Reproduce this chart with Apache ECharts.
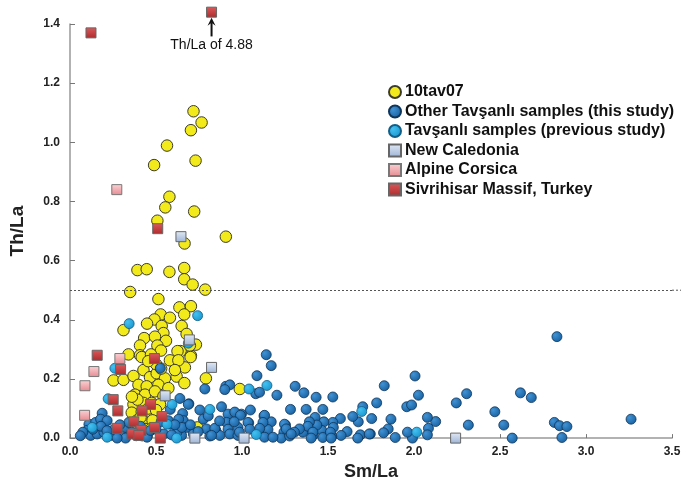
<!DOCTYPE html>
<html><head><meta charset="utf-8">
<script src="https://cdn.jsdelivr.net/npm/echarts@6/dist/echarts.min.js"></script>
<style>html,body{margin:0;padding:0;background:#fff}#c{width:685px;height:486px}</style>
</head><body><div id="c"></div>
<script>
// Data: [Sm/La, Th/La]
const tav07 = [[0.718,1.105],[0.765,1.067],[0.703,1.041],[0.564,0.989],[0.730,0.938],[0.489,0.923],[0.578,0.816],[0.554,0.780],[0.722,0.766],[0.508,0.735],[0.666,0.658],[0.906,0.681],
[0.392,0.568],[0.446,0.571],[0.578,0.562],[0.664,0.575],[0.664,0.537],[0.713,0.519],[0.786,0.502],[0.350,0.494],[0.514,0.470],[0.636,0.442],[0.703,0.446],[0.664,0.418],[0.527,0.418],[0.581,0.407],[0.491,0.401],[0.448,0.387],[0.311,0.365],[0.533,0.379],[0.543,0.355],[0.649,0.379],[0.678,0.352],[0.431,0.338],[0.494,0.343],[0.558,0.329],[0.407,0.313],[0.508,0.313],[0.732,0.316],[0.643,0.294],[0.625,0.294],[0.703,0.279],[0.340,0.283],[0.407,0.280],[0.581,0.263],[0.529,0.296],
[0.697,0.313],[0.417,0.274],[0.471,0.283],[0.668,0.239],[0.253,0.195],[0.311,0.197],[0.369,0.210],[0.427,0.230],[0.465,0.206],[0.504,0.219],[0.552,0.202],[0.620,0.208],[0.665,0.186],[0.790,0.202],[0.398,0.180],[0.446,0.175],[0.514,0.180],[0.572,0.169],[0.378,0.147],[0.436,0.147],[0.494,0.158],[0.543,0.142],[0.369,0.114],[0.427,0.119],[0.475,0.119],[0.523,0.114],[0.359,0.086],[0.417,0.089],[0.465,0.081],[0.388,0.059],[0.446,0.053],[0.436,0.031],[0.446,0.009],[0.740,0.036],[0.987,0.166],[0.630,0.263],[0.701,0.274],
[0.392,0.130],[0.455,0.100],[0.500,0.095],[0.410,0.070],[0.480,0.060],[0.395,0.035],[0.420,0.010],[0.470,0.030],[0.360,0.140],[0.500,0.250],[0.455,0.260],[0.610,0.230],[0.530,0.235]];

const otherTav = [[2.831,0.343],[2.006,0.210],[1.827,0.177],[2.026,0.145],[2.306,0.150],[2.619,0.153],[2.682,0.137],[1.360,0.153],[1.431,0.138],[1.528,0.139],[1.373,0.097],[1.470,0.097],[1.783,0.119],[1.702,0.106],[1.958,0.106],[1.986,0.112],[2.246,0.119],[2.470,0.089],[3.262,0.064],[2.816,0.053],[2.846,0.042],[2.889,0.039],[2.860,0.002],[2.571,0.0],[2.522,0.044],[2.316,0.044],[2.126,0.056],[2.078,0.070],[2.084,0.033],[2.078,0.011],[1.991,0.0],[1.962,0.020],[1.891,0.002],[1.850,0.031],[1.823,0.018],[1.866,0.064],[1.754,0.066],[1.746,0.014],[1.688,0.011],[1.676,0.055],[1.644,0.073],[1.572,0.066],[1.611,0.022],[1.576,0.009],[1.528,0.053],[1.531,0.036],[1.522,0.006],[1.476,0.055],[1.464,0.026],[1.470,0.002],[1.425,0.070],[1.435,0.044],[1.412,0.009],[1.392,0.055],[1.379,0.033],[1.354,0.020],
[1.141,0.282],[1.170,0.245],[1.087,0.211],[1.080,0.150],[1.102,0.155],[1.203,0.145],[1.309,0.175],[1.282,0.097],[1.049,0.095],[1.128,0.075],[1.039,0.051],[1.131,0.051],[1.170,0.055],[1.253,0.044],[1.383,0.040],[1.108,0.029],[1.151,0.029],[1.131,0.003],[1.244,0.020],[1.228,0.0],[1.277,0.007],[1.334,0.031],[1.412,0.020],[1.402,0.0],[1.514,0.020],[1.518,0.0],[1.673,0.0],[1.740,0.014],[0.997,0.081],
[0.784,0.166],[0.906,0.175],[0.929,0.180],[0.900,0.164],[0.639,0.134],[0.691,0.116],[0.881,0.106],[0.755,0.095],[0.655,0.083],[0.919,0.081],[0.958,0.088],[0.991,0.077],[1.131,0.077],[0.659,0.059],[0.775,0.064],[0.804,0.075],[0.910,0.053],[1.035,0.053],[1.122,0.053],[1.247,0.047],[0.678,0.036],[0.794,0.031],[0.848,0.026],[0.919,0.030],[0.977,0.036],[1.045,0.030],[1.103,0.033],[1.257,0.031],[1.305,0.020],[0.649,0.009],[0.813,0.007],[0.871,0.009],[0.929,0.014],[0.977,0.009],[1.180,0.003],[1.286,0.014],
[0.187,0.084],[0.110,0.047],[0.149,0.053],[0.168,0.036],[0.100,0.026],[0.120,0.009],[0.158,0.014],[0.197,0.020],[0.236,0.009],[0.255,0.029],[0.303,0.014],[0.323,0.036],[0.323,0.0],[0.342,0.053],[0.274,0.0],[0.448,0.003],[0.468,0.026],[0.545,0.014],[0.583,0.047],[0.622,0.020],[0.632,0.064],[0.651,0.036],[0.178,0.064],[0.216,0.059],[0.583,0.097],[0.572,0.059],[0.591,0.011],[0.688,0.114],[0.842,0.033],[0.823,0.009],[0.717,0.014],[0.525,0.236],
[0.075,0.020],[0.060,0.008],[0.133,0.030],[0.180,0.040],[0.215,0.025],[0.290,0.045],[0.360,0.020],[0.385,0.008],[0.410,0.040],[0.500,0.030],[0.530,0.055],[0.610,0.045],[0.700,0.045],[0.745,0.022],[0.870,0.058],[0.955,0.055],[0.985,0.020]];

const prevTav = [[0.261,0.236],[0.222,0.133],[0.344,0.387],[0.742,0.414],[0.688,0.321],[1.041,0.166],[1.145,0.178],[0.813,0.097],[1.083,0.012],[1.696,0.090],[2.016,0.020],[0.129,0.036],[0.216,0.003],[0.564,0.047],[0.620,0.0],[0.593,0.114]];

const newCaledonia = [[0.645,0.681],[0.694,0.332],[0.823,0.239],[0.553,0.143],[0.726,0.0],[1.012,0.0],[2.242,0.0]];

const alpineCorsica = [[0.085,0.077],[0.087,0.177],[0.139,0.225],[0.290,0.269],[0.272,0.840]];

const sivrihisar = [[0.158,0.280],[0.491,0.269],[0.294,0.232],[0.251,0.130],[0.278,0.092],[0.468,0.114],[0.419,0.092],[0.535,0.073],[0.371,0.055],[0.274,0.033],[0.413,0.026],[0.491,0.036],[0.361,0.014],[0.400,0.009],[0.525,0.0],[0.510,0.708],[0.122,1.370],[0.823,1.440]];

const xTicks = {min:0, max:3.5, interval:0.5};
const yTicks = {min:0, max:1.4, interval:0.2};
const refLine = 0.5;
const annotation = {x:0.823, yText:1.330, yFrom:1.358, yTo:1.418, text:'Th/La of 4.88'};

const R = (c0, c1) => new echarts.graphic.RadialGradient(0.35, 0.35, 0.7, [{offset:0,color:c0},{offset:1,color:c1}]);
const L = (c0, c1) => new echarts.graphic.LinearGradient(0, 0, 0, 1, [{offset:0,color:c0},{offset:1,color:c1}]);

const FONT = '"Liberation Sans", Arial, Helvetica, sans-serif';
const chart = echarts.init(document.getElementById('c'));
chart.setOption({
  animation: false,
  backgroundColor: '#fff',
  grid: {left:68, right:13, top:24, bottom:40, containLabel:false},
  legend: {
    orient:'vertical', left:383, top:79, itemGap:3.5, itemWidth:12, itemHeight:12,
    textStyle:{fontFamily:FONT, fontWeight:'bold', fontSize:16, color:'#111', padding:[0,0,0,-1]},
    data:[
      {name:'10tav07', icon:'circle'},
      {name:'Other Tavşanlı samples (this study)', icon:'circle'},
      {name:'Tavşanlı samples (previous study)', icon:'circle'},
      {name:'New Caledonia', icon:'rect'},
      {name:'Alpine Corsica', icon:'rect'},
      {name:'Sivrihisar Massif, Turkey', icon:'rect'}
    ]
  },
  xAxis: {
    type:'value', min:xTicks.min, max:xTicks.max, interval:xTicks.interval,
    name:'Sm/La', nameLocation:'middle', nameGap:24,
    nameTextStyle:{fontFamily:FONT, fontWeight:'bold', fontSize:18, color:'#222'},
    axisLine:{lineStyle:{color:'#999', width:1.5}},
    axisTick:{inside:true, length:4, lineStyle:{color:'#777'}},
    axisLabel:{fontFamily:FONT, fontWeight:'bold', fontSize:12, color:'#222', margin:8, formatter:v=>v.toFixed(1)},
    splitLine:{show:false}
  },
  yAxis: {
    type:'value', min:yTicks.min, max:yTicks.max, interval:yTicks.interval,
    name:'Th/La', nameLocation:'middle', nameGap:43, nameRotate:90,
    nameTextStyle:{fontFamily:FONT, fontWeight:'bold', fontSize:19, color:'#222'},
    axisLine:{show:true, lineStyle:{color:'#999', width:1.5}},
    axisTick:{show:true, inside:true, length:5, lineStyle:{color:'#777'}},
    axisLabel:{fontFamily:FONT, fontWeight:'bold', fontSize:12, color:'#222', margin:10, formatter:v=>v.toFixed(1)},
    splitLine:{show:false}
  },
  series: [
    {name:'10tav07', type:'scatter', symbol:'circle', symbolSize:11.5, data:tav07,
     itemStyle:{color:'#f2ea1a', borderColor:'#3c3c2a', borderWidth:1, opacity:1},
     markLine:{silent:true, symbol:['none','none'], label:{show:false},
       lineStyle:{color:'#555', type:[2,2], width:1},
       data:[{yAxis:refLine}]}},
    {name:'Other Tavşanlı samples (this study)', type:'scatter', symbol:'circle', symbolSize:10, data:otherTav,
     itemStyle:{color:R('#4192d4','#17609f'), borderColor:'#0f3559', borderWidth:0.8, opacity:1}},
    {name:'Tavşanlı samples (previous study)', type:'scatter', symbol:'circle', symbolSize:10, data:prevTav,
     itemStyle:{color:R('#45c0f0','#1896cf'), borderColor:'#135e86', borderWidth:0.8, opacity:1}},
    {name:'New Caledonia', type:'scatter', symbol:'rect', symbolSize:10, data:newCaledonia,
     itemStyle:{color:L('#e2eaf5','#9cb3d6'), borderColor:'#666', borderWidth:1, opacity:1}},
    {name:'Alpine Corsica', type:'scatter', symbol:'rect', symbolSize:10, data:alpineCorsica,
     itemStyle:{color:L('#fbd3d5','#e68a91'), borderColor:'#777', borderWidth:1, opacity:1}},
    {name:'Sivrihisar Massif, Turkey', type:'scatter', symbol:'rect', symbolSize:10, data:sivrihisar, clip:false,
     itemStyle:{color:L('#dc5a5c','#ad2a2d'), borderColor:'#666', borderWidth:1, opacity:1},
     markPoint:{silent:true, symbol:'circle', symbolSize:1, itemStyle:{color:'rgba(0,0,0,0)'},
       label:{show:true, position:'inside', formatter:annotation.text, fontFamily:FONT, fontSize:14, color:'#111'},
       data:[{coord:[annotation.x, annotation.yText]}]}}
  ]
});

// Annotation arrow, placed through the chart's own scales
const p0 = chart.convertToPixel({gridIndex:0}, [annotation.x, annotation.yFrom]);
const p1 = chart.convertToPixel({gridIndex:0}, [annotation.x, annotation.yTo]);
// extend the dotted reference line slightly beyond the plot like the original
const d0 = chart.convertToPixel({gridIndex:0}, [xTicks.max, refLine]);
chart.setOption({graphic:[
  {type:'line', silent:true, z:10, shape:{x1:p0[0], y1:p0[1], x2:p1[0], y2:p1[1]+4}, style:{stroke:'#111', lineWidth:2}},
  {type:'polygon', silent:true, z:10, shape:{points:[[p1[0], p1[1]-1],[p1[0]-4, p1[1]+7],[p1[0], p1[1]+4],[p1[0]+4, p1[1]+7]]}, style:{fill:'#111'}},
  {type:'line', silent:true, z:1, shape:{x1:d0[0], y1:d0[1], x2:d0[0]+9, y2:d0[1]}, style:{stroke:'#555', lineWidth:1, lineDash:[2,2]}}
]});
</script>
</body></html>
